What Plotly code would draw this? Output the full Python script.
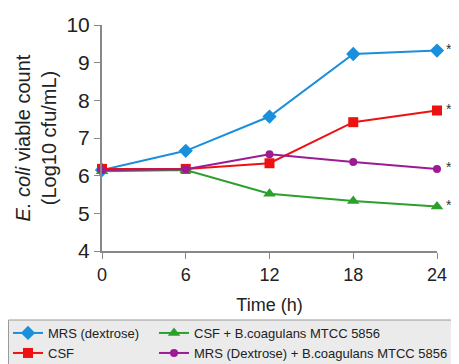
import plotly.graph_objects as go

time_h = [0, 6, 12, 18, 24]
mrs_dextrose = [6.15, 6.66, 7.57, 9.23, 9.32]
csf = [6.18, 6.18, 6.33, 7.42, 7.73]
csf_bcoag = [6.12, 6.15, 5.52, 5.33, 5.18]
mrs_bcoag = [6.15, 6.17, 6.57, 6.36, 6.18]

# page body has an 8px margin: figure coordinates = screen - 8
W, H = 459, 364
ML, MR, MT, MB = 94, 30, 17, 121
PW, PH = W - ML - MR, H - MT - MB


def px_to_paper_x(fx):
    return (fx - ML) / PW


def px_to_paper_y(fy):
    return (H - MB - fy) / PH


series = [
    ("MRS (dextrose)", mrs_dextrose, "#1a8fdc", "diamond", 11, "legend", 0, 325),
    ("CSF", csf, "#ee1111", "square", 10, "legend2", 0, 345),
    ("CSF + B.coagulans MTCC 5856", csf_bcoag, "#2ca02c", "triangle-up", 11, "legend3", 146, 325),
    ("MRS (Dextrose) + B.coagulans MTCC 5856", mrs_bcoag, "#9b1b94", "circle", 8, "legend4", 146, 345),
]

fig = go.Figure()
legends = {}
for name, vals, col, sym, sz, lg, lx, ly in series:
    fig.add_trace(go.Scatter(
        x=time_h, y=vals, name=name, mode="lines+markers",
        line=dict(color=col, width=2),
        marker=dict(symbol=sym, size=sz, color=col),
        cliponaxis=False, legend=lg,
    ))
    fig.add_annotation(x=time_h[-1], y=vals[-1], text="*", showarrow=False,
                       xanchor="left", yanchor="middle", xshift=7, yshift=2,
                       font=dict(size=14, color="#333333", family="Arial"))
    legends[lg] = dict(
        x=px_to_paper_x(lx), xanchor="left", y=px_to_paper_y(ly), yanchor="middle",
        bgcolor="rgba(0,0,0,0)", borderwidth=0,
        font=dict(size=13, color="#222222"), itemwidth=30,
    )

# legend background box
fig.add_shape(type="rect", xref="paper", yref="paper",
              x0=px_to_paper_x(0.5), x1=px_to_paper_x(470),
              y0=px_to_paper_y(312), y1=px_to_paper_y(380),
              fillcolor="#ebebeb", line=dict(color="#9a9a9a", width=1), layer="below")

fig.update_layout(
    width=W, height=H,
    margin=dict(l=ML, r=MR, t=MT, b=MB, autoexpand=False),
    plot_bgcolor="white", paper_bgcolor="white",
    font=dict(family="Arial, Liberation Sans, sans-serif", color="#222222"),
    showlegend=True,
    **legends,
)
fig.update_xaxes(
    range=[0, 24], tickvals=time_h, ticks="outside", ticklen=6, tickcolor="#888888",
    showline=True, linecolor="#888888", linewidth=2, showgrid=False, zeroline=False,
    automargin=False, ticklabelstandoff=0,
    tickfont=dict(size=18), title=dict(text="Time (h)", font=dict(size=18), standoff=15),
)
fig.update_yaxes(
    range=[4, 10], dtick=1, ticks="outside", ticklen=6, tickcolor="#888888",
    showline=True, linecolor="#888888", linewidth=2, showgrid=False, zeroline=False,
    automargin=False,
    tickfont=dict(size=21),
    title=dict(text="<i>E. coli</i> viable count<br>(Log10 cfu/mL)", font=dict(size=20), standoff=4),
)

fig.write_html("out.html")
